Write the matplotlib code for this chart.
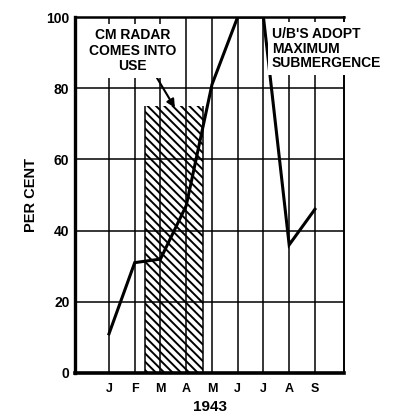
import matplotlib
matplotlib.use("Agg")
import matplotlib.pyplot as plt

#################################
# Data
#################################
months = ["J", "F", "M", "A", "M", "J", "J", "A", "S"]
month_pos = [1, 2, 3, 4, 5, 6, 7, 8, 9]
per_cent = [11, 31, 32, 47, 81, 100, 100, 36, 46]
radar_span = [2.4, 4.65]
radar_height = 75
y_ticks = [0, 20, 40, 60, 80, 100]

plt.rcParams["font.family"] = ["Liberation Sans", "DejaVu Sans"]
plt.rcParams["font.weight"] = "bold"
plt.rcParams["axes.labelweight"] = "bold"
plt.rcParams["hatch.linewidth"] = 1.4

#################################
# Figure
#################################
fig = plt.figure(figsize=(4.0, 4.19), dpi=100)
ax = fig.add_axes([0.1875, 0.1098, 0.6725, 0.8496])

ax.set_xlim(-0.32, 10.13)
ax.set_ylim(0, 100)

# grid
for y in y_ticks[1:-1]:
    ax.axhline(y, color="black", lw=1.1, zorder=1)
for x in month_pos:
    ax.axvline(x, color="black", lw=1.1, zorder=1)

# radar period hatch
ax.bar(radar_span[0], radar_height, width=radar_span[1] - radar_span[0],
       align="edge", facecolor="none", edgecolor="black", hatch="\\\\\\\\",
       linewidth=0, zorder=2)
ax.vlines(radar_span, 0, radar_height, color="black", lw=1.1, zorder=2)

# main curve
ax.plot(month_pos, per_cent, color="black", lw=2.2, zorder=3,
        solid_joinstyle="miter")

# frame
for side, w in [("left", 2.4), ("bottom", 2.6), ("top", 1.8), ("right", 1.4)]:
    ax.spines[side].set_linewidth(w)

ax.set_xticks(month_pos)
ax.set_xticklabels(months, fontsize=9)
ax.set_yticks(y_ticks)
ax.set_yticklabels([str(v) for v in y_ticks], fontsize=10)
ax.tick_params(axis="both", length=0)
ax.tick_params(axis="x", pad=7)
ax.tick_params(axis="y", pad=4)

ax.set_xlabel("1943", fontsize=11, labelpad=4)
ax.set_ylabel("PER CENT", fontsize=10.5, labelpad=6)

# annotations
ax.annotate("CM RADAR\nCOMES INTO\nUSE", xy=(3.56, 74.5), xytext=(1.93, 90.5),
            ha="center", va="center", fontsize=10, linespacing=1.15,
            zorder=5,
            bbox=dict(boxstyle="square,pad=0.3", fc="white", ec="none"),
            arrowprops=dict(arrowstyle="-|>", color="black", lw=1.5,
                            mutation_scale=12, shrinkA=0, shrinkB=0,
                            relpos=(0.72, 0.08)))

ax.text(7.33, 97.3, "U/B'S ADOPT\nMAXIMUM\nSUBMERGENCE", ha="left", va="top",
        fontsize=10, linespacing=1.08, zorder=5, clip_on=False,
        bbox=dict(boxstyle="square,pad=0.3", fc="white", ec="none"))

fig.savefig("out.png", dpi=100)
